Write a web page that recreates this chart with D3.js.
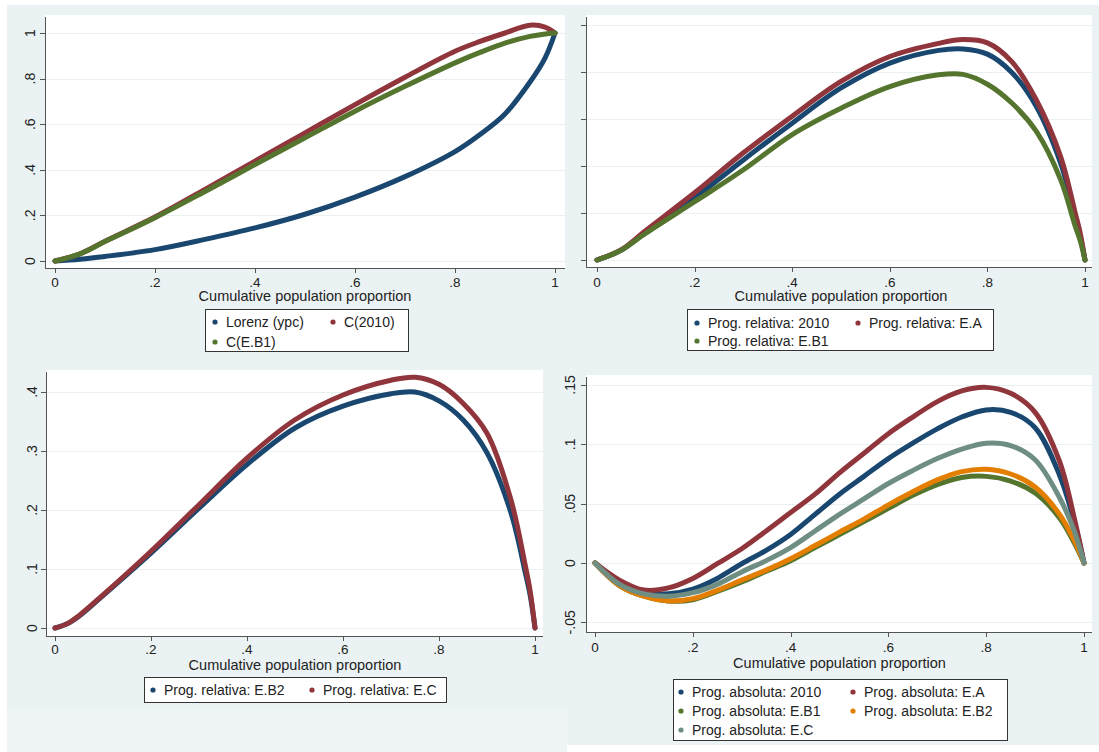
<!DOCTYPE html>
<html>
<head>
<meta charset="utf-8">
<script src="https://cdn.jsdelivr.net/npm/d3@7"></script>
<style>
  html, body { margin: 0; padding: 0; background: #ffffff; }
  svg { display: block; font-family: "Liberation Sans", Arial, sans-serif; }
</style>
</head>
<body>
<svg id="chart" width="1099" height="752"></svg>
<script>
// ---------------- DATA ----------------
const xTicks = [0, 0.2, 0.4, 0.6, 0.8, 1];
const xTickLabels = ["0", ".2", ".4", ".6", ".8", "1"];
const xTitle = "Cumulative population proportion";

// Panel 1: Lorenz and concentration curves
const p1X = [0, 0.05, 0.1, 0.2, 0.3, 0.4, 0.5, 0.6, 0.7, 0.8, 0.85, 0.9, 0.95, 0.98, 1];
const lorenzYpc = [0, 0.008, 0.02, 0.05, 0.095, 0.145, 0.205, 0.28, 0.37, 0.48, 0.555, 0.645, 0.785, 0.89, 1];
const c2010 = [0, 0.032, 0.087, 0.193, 0.314, 0.438, 0.562, 0.686, 0.806, 0.92, 0.963, 1.0, 1.034, 1.026, 1];
const cEB1 = [0, 0.031, 0.085, 0.19, 0.305, 0.423, 0.54, 0.657, 0.766, 0.869, 0.915, 0.956, 0.985, 0.996, 1];
const p1YTicks = [0, 0.2, 0.4, 0.6, 0.8, 1];
const p1YTickLabels = ["0", ".2", ".4", ".6", ".8", "1"];
const p1Names = ["Lorenz (ypc)", "C(2010)", "C(E.B1)"];

// Panel 2: relative progressivity
const p2X = [0, 0.05, 0.1, 0.2, 0.3, 0.4, 0.5, 0.6, 0.7, 0.75, 0.8, 0.85, 0.9, 0.95, 0.98, 0.99, 1];
const rel2010 = [0, 0.021, 0.06, 0.132, 0.213, 0.291, 0.366, 0.419, 0.446, 0.449, 0.438, 0.399, 0.327, 0.206, 0.093, 0.052, 0];
const relEA = [0, 0.022, 0.063, 0.143, 0.228, 0.306, 0.38, 0.433, 0.461, 0.469, 0.462, 0.422, 0.341, 0.22, 0.1, 0.058, 0];
const relEB1 = [0, 0.021, 0.057, 0.124, 0.192, 0.267, 0.323, 0.369, 0.394, 0.395, 0.374, 0.334, 0.274, 0.171, 0.072, 0.042, 0];
const p2YTicks = [0, 0.1, 0.2, 0.3, 0.4, 0.5];
const p2YTickLabels = ["", "", "", "", "", ""];
const p2Names = ["Prog. relativa: 2010", "Prog. relativa: E.A", "Prog. relativa: E.B1"];

// Panel 3: relative progressivity
const p3X = [0, 0.025, 0.05, 0.1, 0.2, 0.3, 0.4, 0.5, 0.6, 0.7, 0.75, 0.8, 0.85, 0.9, 0.95, 0.98, 0.99, 1];
const relEB2 = [0, 0.007, 0.02, 0.055, 0.127, 0.203, 0.277, 0.339, 0.376, 0.397, 0.4, 0.385, 0.353, 0.297, 0.195, 0.093, 0.055, 0];
const relEC = [0, 0.007, 0.021, 0.056, 0.13, 0.209, 0.288, 0.353, 0.395, 0.42, 0.425, 0.413, 0.381, 0.33, 0.217, 0.105, 0.062, 0];
const p3YTicks = [0, 0.1, 0.2, 0.3, 0.4];
const p3YTickLabels = ["0", ".1", ".2", ".3", ".4"];
const p3Names = ["Prog. relativa: E.B2", "Prog. relativa: E.C"];

// Panel 4: absolute progressivity
const p4X = [0, 0.05, 0.1, 0.15, 0.2, 0.25, 0.3, 0.35, 0.4, 0.45, 0.5, 0.55, 0.6, 0.65, 0.7, 0.75, 0.8, 0.85, 0.9, 0.95, 0.98, 1];
const abs2010 = [0, -0.016, -0.025, -0.026, -0.022, -0.013, -0.0006, 0.0106, 0.024, 0.041, 0.058, 0.073, 0.088, 0.101, 0.113, 0.123, 0.129, 0.127, 0.114, 0.074, 0.035, 0];
const absEA = [0, -0.0144, -0.0228, -0.021, -0.013, -0.0006, 0.012, 0.027, 0.0425, 0.058, 0.076, 0.0925, 0.109, 0.123, 0.136, 0.145, 0.148, 0.143, 0.127, 0.0856, 0.038, 0];
const absEB1 = [0, -0.019, -0.028, -0.032, -0.031, -0.024, -0.016, -0.007, 0.002, 0.013, 0.024, 0.035, 0.046, 0.057, 0.066, 0.072, 0.073, 0.069, 0.059, 0.038, 0.017, 0];
const absEB2 = [0, -0.019, -0.028, -0.032, -0.030, -0.023, -0.0144, -0.006, 0.0036, 0.0147, 0.026, 0.037, 0.049, 0.06, 0.07, 0.077, 0.079, 0.075, 0.064, 0.041, 0.019, 0];
const absEC = [0, -0.018, -0.026, -0.028, -0.025, -0.018, -0.0075, 0.002, 0.013, 0.027, 0.041, 0.054, 0.067, 0.078, 0.088, 0.096, 0.101, 0.099, 0.087, 0.055, 0.027, 0];
const p4YTicks = [-0.05, 0, 0.05, 0.1, 0.15];
const p4YTickLabels = ["-.05", "0", ".05", ".1", ".15"];
const p4Names = ["Prog. absoluta: 2010", "Prog. absoluta: E.A", "Prog. absoluta: E.B1", "Prog. absoluta: E.B2", "Prog. absoluta: E.C"];

// Stata s2color palette
const navy = "#1a476f", maroon = "#90353b", forest = "#55752f", orange = "#e37e00", teal = "#6e8e84";

// ---------------- LAYOUT ----------------
const panels = [
  {
    x: p1X, series: [lorenzYpc, c2010, cEB1], names: p1Names, colors: [navy, maroon, forest],
    yTicks: p1YTicks, yLabels: p1YTickLabels,
    plot: {l: 45, r: 565, t: 15, b: 268}, xr: [55, 555], yd: [0, 1], yr: [261, 33],
    yLabX: 30, xLabY: 287, titleY: 301,
    legend: {l: 205, t: 309, w: 203, h: 42, colX: [215, 333], rowY: [322, 342], cols: 2}
  },
  {
    x: p2X, series: [rel2010, relEA, relEB1], names: p2Names, colors: [navy, maroon, forest],
    yTicks: p2YTicks, yLabels: p2YTickLabels,
    plot: {l: 586, r: 1092, t: 15, b: 267}, xr: [597, 1085], yd: [0, 0.5], yr: [260, 25],
    yLabX: 570, xLabY: 287, titleY: 301,
    legend: {l: 687, t: 309, w: 306, h: 41, colX: [697, 858], rowY: [323, 341], cols: 2}
  },
  {
    x: p3X, series: [relEB2, relEC], names: p3Names, colors: [navy, maroon],
    yTicks: p3YTicks, yLabels: p3YTickLabels,
    plot: {l: 46, r: 543, t: 370, b: 636}, xr: [55, 535], yd: [0, 0.4], yr: [628, 392],
    yLabX: 32, xLabY: 654, titleY: 670,
    legend: {l: 144, t: 677, w: 302, h: 25, colX: [153, 312], rowY: [690], cols: 2}
  },
  {
    x: p4X, series: [abs2010, absEA, absEB1, absEB2, absEC], names: p4Names, colors: [navy, maroon, forest, orange, teal],
    yTicks: p4YTicks, yLabels: p4YTickLabels,
    plot: {l: 586, r: 1092, t: 375, b: 632}, xr: [595, 1084], yd: [0, 0.15], yr: [563, 385],
    yLabX: 570, xLabY: 652, titleY: 668,
    legend: {l: 673, t: 679, w: 334, h: 61, colX: [681, 853], rowY: [692, 711, 730], cols: 2}
  }
];

// ---------------- DRAW ----------------
const svg = d3.select("#chart");

// graph region background
svg.append("rect").attr("x", 7).attr("y", 5).attr("width", 1092).attr("height", 705).attr("fill", "#eaf2f3");
svg.append("rect").attr("x", 567).attr("y", 705).attr("width", 532).attr("height", 40).attr("fill", "#eaf2f3");
svg.append("rect").attr("x", 7).attr("y", 710).attr("width", 560).attr("height", 42).attr("fill", "#eef4f6");

panels.forEach(p => {
  const g = svg.append("g");
  const xs = d3.scaleLinear().domain([0, 1]).range(p.xr);
  const ys = d3.scaleLinear().domain(p.yd).range(p.yr);

  // plot region
  g.append("rect")
    .attr("x", p.plot.l).attr("y", p.plot.t)
    .attr("width", p.plot.r - p.plot.l).attr("height", p.plot.b - p.plot.t)
    .attr("fill", "#ffffff");

  // grid lines
  g.selectAll(".grid").data(p.yTicks).enter().append("line")
    .attr("x1", p.plot.l + 1).attr("x2", p.plot.r)
    .attr("y1", d => Math.round(ys(d)) + 0.5).attr("y2", d => Math.round(ys(d)) + 0.5)
    .attr("stroke", "#e9f0f2").attr("stroke-width", 1);

  // curves
  const line = d3.line()
    .x((d, i) => xs(p.x[i]))
    .y(d => ys(d))
    .curve(d3.curveCatmullRom.alpha(0.5));
  p.series.forEach((s, k) => {
    g.append("path").datum(s)
      .attr("d", line)
      .attr("fill", "none")
      .attr("stroke", p.colors[k])
      .attr("stroke-width", 5)
      .attr("stroke-linecap", "round")
      .attr("stroke-linejoin", "round");
  });

  // axes: y
  const axisColor = "#555555";
  g.append("line").attr("x1", p.plot.l + 0.5).attr("x2", p.plot.l + 0.5)
    .attr("y1", p.plot.t + 2).attr("y2", p.plot.b).attr("stroke", axisColor);
  g.selectAll(".ytick").data(p.yTicks).enter().append("line")
    .attr("x1", p.plot.l - 5).attr("x2", p.plot.l)
    .attr("y1", d => Math.round(ys(d)) + 0.5).attr("y2", d => Math.round(ys(d)) + 0.5)
    .attr("stroke", axisColor);
  g.selectAll(".ylab").data(p.yTicks).enter().append("text")
    .attr("transform", d => `translate(${p.yLabX},${ys(d)}) rotate(-90)`)
    .attr("text-anchor", "middle").attr("dy", "0.36em")
    .attr("font-size", 14).attr("fill", "#222")
    .text((d, i) => p.yLabels[i]);

  // axes: x
  g.append("line").attr("x1", p.plot.l).attr("x2", p.plot.r)
    .attr("y1", p.plot.b + 0.5).attr("y2", p.plot.b + 0.5).attr("stroke", axisColor);
  g.selectAll(".xtick").data(xTicks).enter().append("line")
    .attr("x1", d => Math.round(xs(d)) + 0.5).attr("x2", d => Math.round(xs(d)) + 0.5)
    .attr("y1", p.plot.b).attr("y2", p.plot.b + 5)
    .attr("stroke", axisColor);
  g.selectAll(".xlab").data(xTicks).enter().append("text")
    .attr("x", d => xs(d)).attr("y", p.xLabY)
    .attr("text-anchor", "middle").attr("font-size", 13.5).attr("fill", "#222")
    .text((d, i) => xTickLabels[i]);
  g.append("text")
    .attr("x", (p.xr[0] + p.xr[1]) / 2).attr("y", p.titleY)
    .attr("text-anchor", "middle").attr("font-size", 14.5).attr("fill", "#222")
    .text(xTitle);

  // legend
  const L = p.legend;
  g.append("rect").attr("x", L.l + 0.5).attr("y", L.t + 0.5).attr("width", L.w).attr("height", L.h)
    .attr("fill", "#ffffff").attr("stroke", "#333").attr("stroke-width", 1);
  p.names.forEach((n, k) => {
    const col = k % L.cols, row = Math.floor(k / L.cols);
    const cx = L.colX[col], cy = L.rowY[row];
    g.append("circle").attr("cx", cx).attr("cy", cy).attr("r", 2.6).attr("fill", p.colors[k]);
    g.append("text").attr("x", cx + 11).attr("y", cy).attr("dy", "0.36em")
      .attr("font-size", 14).attr("fill", "#222").text(n);
  });
});
</script>
</body>
</html>
